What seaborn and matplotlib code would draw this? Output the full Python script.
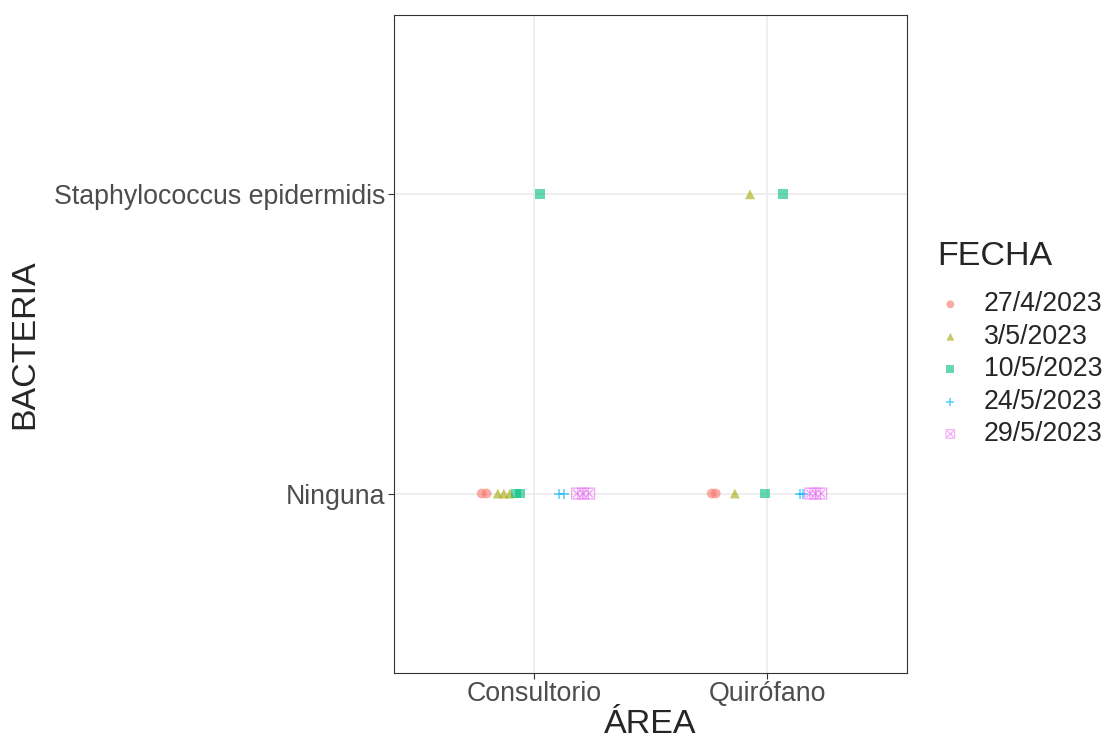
import pandas as pd
import matplotlib.pyplot as plt
import seaborn as sns

# muestras (una fila por punto); jitter horizontal
fecha = ["27/4/2023", "27/4/2023", "3/5/2023", "3/5/2023", "3/5/2023",
         "10/5/2023", "10/5/2023", "24/5/2023", "24/5/2023",
         "29/5/2023", "29/5/2023", "29/5/2023", "10/5/2023",
         "27/4/2023", "27/4/2023", "3/5/2023", "10/5/2023",
         "24/5/2023", "24/5/2023", "29/5/2023", "29/5/2023", "29/5/2023",
         "3/5/2023", "10/5/2023"]
area = ["Consultorio"] * 13 + ["Quirófano"] * 11
bacteria = (["Ninguna"] * 12 + ["Staphylococcus epidermidis"]
            + ["Ninguna"] * 9 + ["Staphylococcus epidermidis"] * 2)
jitter = [-0.224, -0.203, -0.155, -0.129, -0.103,
          -0.078, -0.060, 0.108, 0.129,
          0.185, 0.211, 0.237, 0.026,
          -0.237, -0.220, -0.138, -0.009,
          0.142, 0.155, 0.185, 0.207, 0.233,
          -0.073, 0.069]

areas = ["Consultorio", "Quirófano"]
bacterias = ["Ninguna", "Staphylococcus epidermidis"]
fechas = ["27/4/2023", "3/5/2023", "10/5/2023", "24/5/2023", "29/5/2023"]
colores = ["#F8766D", "#A3A500", "#00BF7D", "#00B0F6", "#E76BF3"]
marcas = ["o", "^", "s", "+", "$\u22a0$"]

df = pd.DataFrame({"FECHA": fecha, "AREA": area, "BACTERIA": bacteria, "j": jitter})
df["x"] = df["AREA"].map({a: i for i, a in enumerate(areas)}) + df["j"]
df["y"] = df["BACTERIA"].map({b: i for i, b in enumerate(bacterias)})

sns.set_theme(style="white")
plt.rcParams["font.family"] = ["Liberation Sans", "DejaVu Sans"]

fig = plt.figure(figsize=(11.1, 7.4), dpi=100)
ax = fig.add_axes([0.355, 0.0905, 0.462, 0.8895])

# una llamada por fecha: seaborn no mezcla marcadores rellenos y de linea
for f, c, m in zip(fechas, colores, marcas):
    sub = df[df["FECHA"] == f]
    lw = 1.2 if m == "+" else 0
    sz = 75 if m.startswith("$") else 50
    sns.scatterplot(data=sub, x="x", y="y", color=c, marker=m, s=sz,
                    alpha=0.6, linewidth=lw, edgecolor=c if m == "+" else "none",
                    label=f, ax=ax, zorder=3)

ax.set_xlim(-0.6, 1.6)
ax.set_ylim(-0.6, 1.6)
ax.set_xticks(range(len(areas)))
ax.set_xticklabels(areas)
ax.set_yticks(range(len(bacterias)))
ax.set_yticklabels(bacterias)
ax.grid(True, color="#EBEBEB", linewidth=1.2)
ax.set_axisbelow(True)
for s in ax.spines.values():
    s.set_color("#333333")
    s.set_linewidth(0.8)
ax.tick_params(axis="both", labelsize=19.3, labelcolor="#4D4D4D", color="#333333",
               length=4, width=0.8, direction="out", bottom=True, left=True, pad=2)
ax.set_xlabel("ÁREA", fontsize=24.5, labelpad=1)
ax.set_ylabel("BACTERIA", fontsize=24.5, labelpad=10)

leg = ax.legend(loc="center left", bbox_to_anchor=(1.012, 0.5), frameon=False,
                title="FECHA", fontsize=19.2, title_fontsize=24.5,
                handletextpad=0.75, labelspacing=0.24, markerscale=0.8,
                handlelength=1.0)
leg._legend_box.align = "left"
leg._legend_box.sep = 14

fig.savefig("out.png", dpi=100)
